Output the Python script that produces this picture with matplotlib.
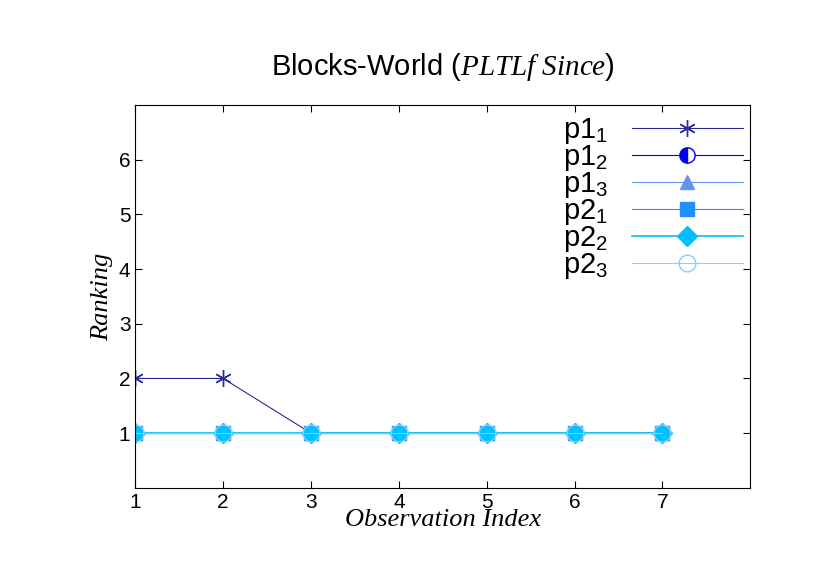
import matplotlib.pyplot as plt

plt.rcParams['font.family'] = ['Liberation Sans', 'DejaVu Sans']
plt.rcParams['mathtext.fontset'] = 'custom'
plt.rcParams['mathtext.rm'] = 'Liberation Sans'
plt.rcParams['mathtext.it'] = 'Liberation Serif:italic'

obs = [1, 2, 3, 4, 5, 6, 7]
p1_1 = [2, 2, 1, 1, 1, 1, 1]
p1_2 = [1, 1, 1, 1, 1, 1, 1]
p1_3 = [1, 1, 1, 1, 1, 1, 1]
p2_1 = [1, 1, 1, 1, 1, 1, 1]
p2_2 = [1, 1, 1, 1, 1, 1, 1]
p2_3 = [1, 1, 1, 1, 1, 1, 1]

fig = plt.figure(figsize=(8.3, 5.87), dpi=100)
ax = fig.add_axes([0.163, 0.169, 0.741, 0.652])

ax.plot(obs, p1_1, color='#2a2a9a', lw=0.8, marker=(6, 2, 0), ms=12, mew=1, label=r'p1$_1$')
ax.plot(obs, p1_2, color='#0000ee', lw=0.8, marker='o', ms=11, fillstyle='left',
        markerfacecoloralt='white', label=r'p1$_2$')
ax.plot(obs, p1_3, color='#6495ed', lw=0.8, marker='^', ms=10, label=r'p1$_3$')
ax.plot(obs, p2_1, color='#1e90ff', lw=0.8, marker='s', ms=10, label=r'p2$_1$')
ax.plot(obs, p2_2, color='#00bfff', lw=1.2, marker='D', ms=10, label=r'p2$_2$')
ax.plot(obs, p2_3, color='#87cefa', lw=0.8, marker='o', ms=12, mfc='none', label=r'p2$_3$')

ax.set_xlim(1, 8)
ax.set_ylim(0, 7)
ax.set_xticks(obs)
ax.set_yticks([1, 2, 3, 4, 5, 6])
ax.tick_params(direction='in', labelsize=15, top=True, right=True, length=5)
ax.set_xlabel('Observation Index', fontsize=19, family='Liberation Serif', style='italic', labelpad=-2)
ax.set_ylabel('Ranking', fontsize=19, family='Liberation Serif', style='italic')
ax.set_title('Blocks-World (' + r'$\mathit{PLTLf\ Since}$' + ')', fontsize=21, pad=22)

ax.legend(loc='upper right', bbox_to_anchor=(1.03, 1.04), frameon=False, markerfirst=False,
          fontsize=21, handlelength=3.8, labelspacing=-0.1, handletextpad=0.8)

fig.savefig('out.png')
